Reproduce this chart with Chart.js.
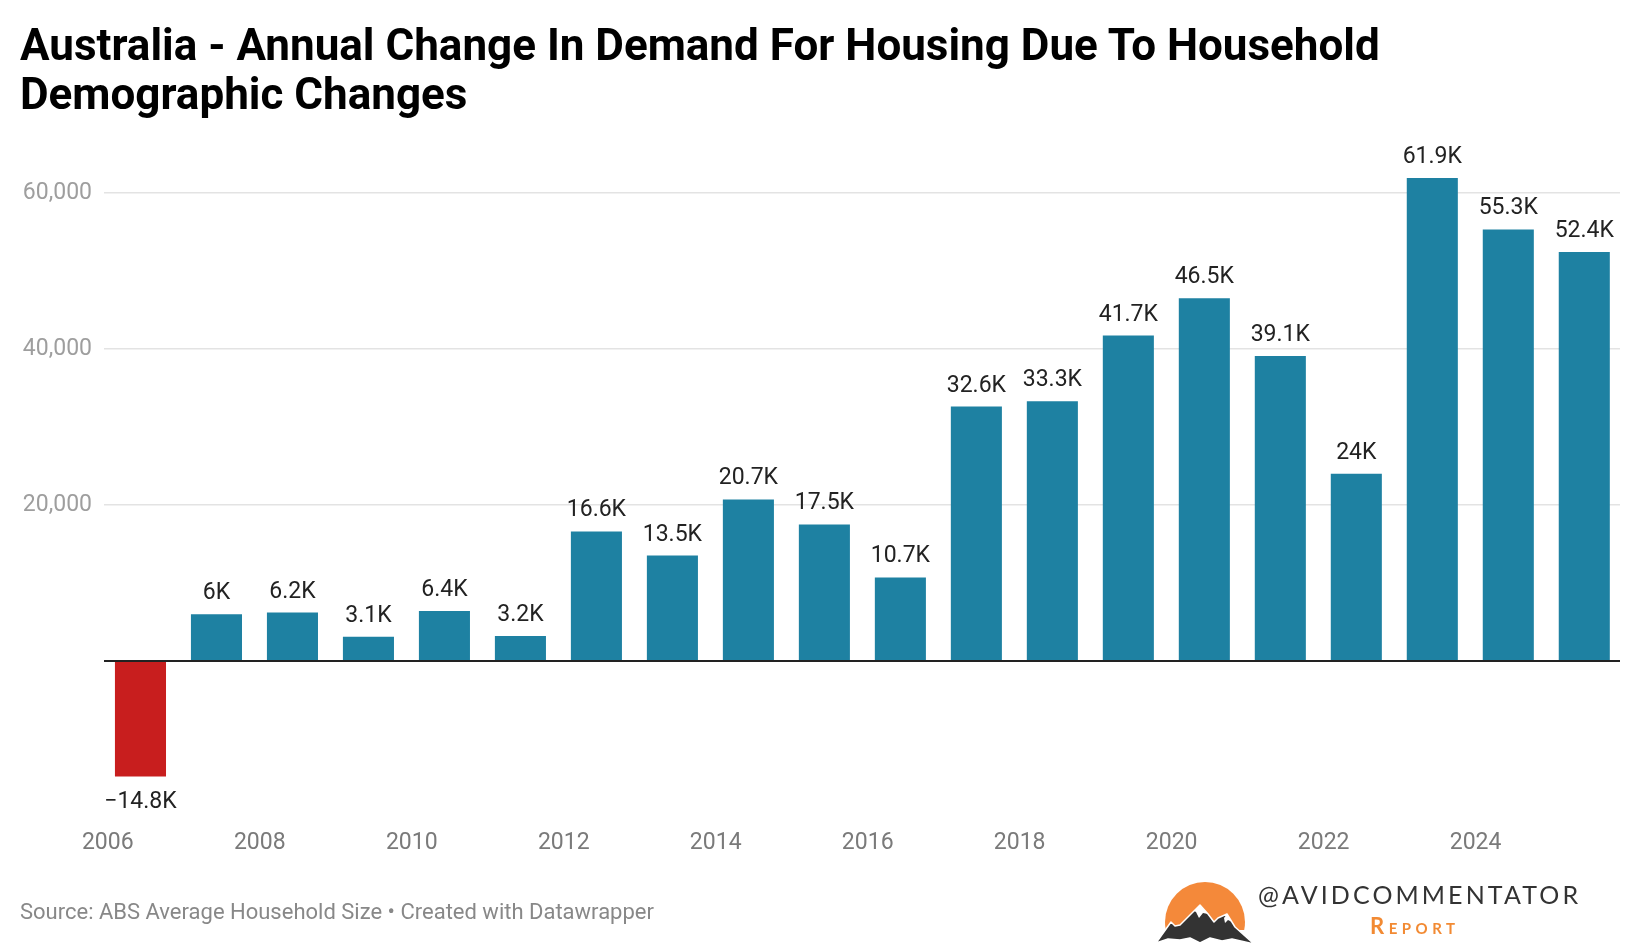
<!DOCTYPE html>
<html>
<head>
<meta charset="utf-8">
<script src="https://cdn.jsdelivr.net/npm/chart.js@4.4.1/dist/chart.umd.min.js"></script>
<style>
  html, body { margin: 0; padding: 0; background: #fff; }
  #page { position: relative; width: 1640px; height: 948px; overflow: hidden; }
  #chart { position: absolute; left: 0; top: 0; }
  .title {
    position: absolute; left: 20px; top: 21px;
    font-family: Roboto, sans-serif; font-weight: 700; font-size: 44px;
    line-height: 49px; color: #000;
  }
  .source {
    position: absolute; left: 20px; top: 899px;
    font-family: Roboto, sans-serif; font-size: 22px; color: #888;
  }
  .logo { position: absolute; left: 1150px; top: 872px; }
  .brand {
    position: absolute; left: 1258px; top: 880px;
    font-family: Lato, sans-serif; font-size: 25px; letter-spacing: 3.1px;
    color: #333; line-height: 28px;
  }
  .report {
    position: absolute; left: 1370px; top: 914px;
    font-family: Lato, sans-serif; font-weight: 700; font-size: 22px;
    letter-spacing: 4.5px; font-variant: small-caps; color: #f28a33; line-height: 24px;
  }
</style>
</head>
<body>
<div id="page">
  <canvas id="chart" width="1640" height="948"></canvas>
  <div class="title">Australia - Annual Change In Demand For Housing Due To Household<br>Demographic Changes</div>
  <div class="source">Source: ABS Average Household Size • Created with Datawrapper</div>
  <svg class="logo" width="115" height="76" viewBox="0 0 115 76">
    <defs>
      <clipPath id="sunClip"><rect x="0" y="0" width="115" height="58"></rect></clipPath>
    </defs>
    <circle cx="55" cy="50" r="40" fill="#f4893a" clip-path="url(#sunClip)"></circle>
    <path d="M6 71 L21 50 L25 54 L30 53 L50 33 L58 42 L64 50 L68 46 L77 42 L85 55 L104 72 L82 67 L72 69 L60 66 L50 71 L40 66 L30 68 L18 67 Z"
          fill="#333" stroke="#fff" stroke-width="1.5" stroke-linejoin="round"></path>
    <path d="M50 33 L58 42 L53 41 L49 46 L46 40 L44 39 Z" fill="#fff"></path>
    <path d="M77 42 L82 50 L78 48 L75 51 L74 46 Z" fill="#fff"></path>
  </svg>
  <div class="brand">@AVIDCOMMENTATOR</div>
  <div class="report">Report</div>
</div>
<script>
// Données
const years = [2006, 2007, 2008, 2009, 2010, 2011, 2012, 2013, 2014, 2015,
               2016, 2017, 2018, 2019, 2020, 2021, 2022, 2023, 2024, 2025];
const demandChange = [-14800, 6000, 6200, 3100, 6400, 3200, 16600, 13500, 20700, 17500,
                      10700, 32600, 33300, 41700, 46500, 39100, 24000, 61900, 55300, 52400];
const yTicks = [20000, 40000, 60000];
const xTickYears = [2006, 2008, 2010, 2012, 2014, 2016, 2018, 2020, 2022, 2024];

// bars sit around mid-year on the time axis
const midYear = 0.43;

const BLUE = '#1e81a2';
const RED = '#c81e1e';

function formatK(v) {
    let s = (Math.abs(v) / 1000).toFixed(1).replace(/\.0$/, '') + 'K';
    return v < 0 ? '\u2212' + s : s;
}

// Étiquettes de valeur au-dessus / en-dessous des barres
const valueLabels = {
    id: 'valueLabels',
    afterDatasetsDraw(chart) {
        const ctx = chart.ctx;
        const meta = chart.getDatasetMeta(0);
        ctx.save();
        ctx.font = '23px Roboto';
        ctx.fillStyle = '#222';
        ctx.textAlign = 'center';
        ctx.textBaseline = 'alphabetic';
        meta.data.forEach((bar, i) => {
            const v = demandChange[i];
            if (v >= 0) {
                ctx.fillText(formatK(v), bar.x, bar.y - 15);
            } else {
                ctx.fillText(formatK(v), bar.x, bar.y + 32);
            }
        });
        ctx.restore();
    }
};

Chart.defaults.font.family = 'Roboto';

new Chart(document.getElementById('chart').getContext('2d'), {
    type: 'bar',
    data: {
        datasets: [{
            data: years.map((y, i) => ({ x: y + midYear, y: demandChange[i] })),
            backgroundColor: demandChange.map(v => v < 0 ? RED : BLUE),
            barPercentage: 0.84,
            categoryPercentage: 0.8
        }]
    },
    options: {
        responsive: false,
        animation: false,
        layout: { padding: { top: 146, right: 20, bottom: 0, left: 0 } },
        plugins: {
            legend: { display: false },
            tooltip: { enabled: false },
            title: { display: false }
        },
        scales: {
            x: {
                type: 'linear',
                offset: false,
                min: 2005.95,
                max: 2025.9,
                grid: { display: false, offset: false },
                border: { display: false },
                afterFit(scale) { scale.height = 131; },
                afterBuildTicks(scale) {
                    scale.ticks = xTickYears.map(v => ({ value: v }));
                },
                ticks: {
                    autoSkip: false,
                    maxRotation: 0,
                    padding: 4,
                    color: '#7a7a7a',
                    font: { size: 23 },
                    callback: v => String(v)
                }
            },
            y: {
                min: -20000,
                max: 66000,
                afterFit(scale) { scale.width = 104; },
                afterBuildTicks(scale) {
                    scale.ticks = [0].concat(yTicks).map(v => ({ value: v }));
                },
                border: { display: false },
                grid: {
                    drawTicks: false,
                    color: c => c.tick.value === 0 ? '#222' : '#e3e3e3',
                    lineWidth: c => c.tick.value === 0 ? 2 : 1.5
                },
                ticks: {
                    padding: 12,
                    color: '#9e9e9e',
                    font: { size: 23 },
                    callback: v => v > 0 ? v.toLocaleString('en-US') : ''
                }
            }
        }
    },
    plugins: [valueLabels]
});
</script>
</body>
</html>
